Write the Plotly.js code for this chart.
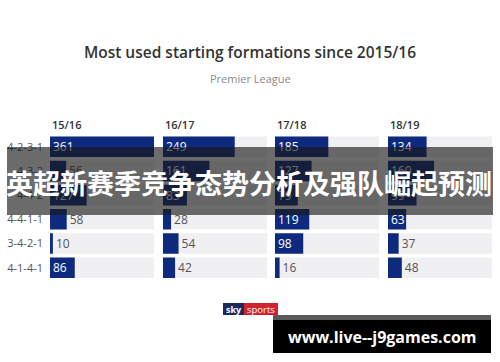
<!DOCTYPE html>
<html>
<head>
<meta charset="utf-8">
<script src="https://cdn.plot.ly/plotly-3.0.1.min.js"></script>
<style>html,body{margin:0;padding:0;background:#fff;}#chart{width:500px;height:362px;}</style>
</head>
<body>
<div id="chart"></div>
<script>
const formations = ['4-2-3-1', '4-3-3', '4-4-2', '4-4-1-1', '3-4-2-1', '4-1-4-1'];
const seasons = ['15/16', '16/17', '17/18', '18/19'];
const s1516 = [361, 56, 127, 58, 10, 86];
const s1617 = [249, 161, 83, 28, 54, 42];
const s1718 = [185, 127, 79, 119, 98, 16];
const s1819 = [134, 160, 99, 63, 37, 48];
const seriesList = [s1516, s1617, s1718, s1819];

const chartTitle = 'Most used starting formations since 2015/16';
const chartSubtitle = 'Premier League';
const bannerText = '英超新赛季竞争态势分析及强队崛起预测';
const watermarkText = 'www.live--j9games.com';

const maxVal = Math.max(...seriesList.flat());
const NAVY = '#0e2a7e';
const TRACK = '#f0f0f2';
const FONT = '"Open Sans", "Noto Sans", sans-serif';

const domains = [[0.100, 0.308], [0.326, 0.534], [0.550, 0.758], [0.776, 0.984]];

const traces = [];
const layout = {
  width: 500, height: 362,
  margin: {l: 0, r: 0, t: 0, b: 0},
  paper_bgcolor: '#ffffff', plot_bgcolor: 'rgba(0,0,0,0)',
  showlegend: false,
  barmode: 'overlay',
  bargap: 0.15,
  font: {family: FONT, color: '#444'},
  title: {text: chartTitle, x: 0.5, xanchor: 'center', y: 1 - 53/362, yanchor: 'middle',
          font: {family: FONT, size: 15.5, color: '#333', weight: 600}},
  yaxis: {type: 'category', categoryarray: formations, categoryorder: 'array',
          autorange: 'reversed', domain: [0.227, 0.628], anchor: 'x',
          showgrid: false, zeroline: false, showline: false, ticks: '',
          ticklabelstandoff: 6,
          tickfont: {family: FONT, size: 11, color: '#555'}},
  annotations: [],
  shapes: []
};

seriesList.forEach((vals, i) => {
  const ax = i === 0 ? 'x' : 'x' + (i + 1);
  const axName = i === 0 ? 'xaxis' : 'xaxis' + (i + 1);
  layout[axName] = {domain: domains[i], range: [0, maxVal], visible: false,
                    anchor: 'y', fixedrange: true};
  traces.push({
    type: 'bar', orientation: 'h', xaxis: ax, yaxis: 'y',
    y: formations, x: formations.map(() => maxVal),
    marker: {color: TRACK}, hoverinfo: 'skip'
  });
  traces.push({
    type: 'bar', orientation: 'h', xaxis: ax, yaxis: 'y',
    y: formations, x: vals,
    marker: {color: NAVY},
    text: vals.map(String),
    textposition: vals.map(v => v >= 60 ? 'inside' : 'outside'),
    insidetextanchor: 'start',
    textangle: 0,
    constraintext: 'none',
    cliponaxis: false,
    insidetextfont: {family: FONT, size: 12, color: '#ffffff'},
    outsidetextfont: {family: FONT, size: 12, color: '#555'},
    hoverinfo: 'skip'
  });
  layout.annotations.push({
    text: seasons[i], xref: ax + ' domain', x: 0, xanchor: 'left',
    yref: 'paper', y: 1 - 125/362, yanchor: 'middle', showarrow: false,
    font: {family: FONT, size: 11, color: '#333', weight: 600}
  });
});

// subtitle
layout.annotations.push({
  text: chartSubtitle, xref: 'paper', x: 0.5, xanchor: 'center',
  yref: 'paper', y: 1 - 79/362, yanchor: 'middle', showarrow: false,
  font: {family: FONT, size: 11, color: '#8a8a8a'}
});

// overlay banner
layout.shapes.push({type: 'rect', xref: 'paper', yref: 'paper', layer: 'above',
  x0: 7/500, x1: 493/500, y0: 1 - 215/362, y1: 1 - 147/362,
  fillcolor: 'rgba(25,25,25,0.64)', line: {width: 0}});
layout.annotations.push({
  text: bannerText, xref: 'paper', x: 0.497, xanchor: 'center',
  yref: 'paper', y: 1 - 182/362, yanchor: 'middle', showarrow: false,
  font: {family: '"Noto Sans CJK SC", sans-serif', size: 27, color: '#ffffff', weight: 700}
});

// sky sports logo
layout.shapes.push({type: 'rect', xref: 'paper', yref: 'paper', layer: 'above',
  x0: 223/500, x1: 244/500, y0: 1 - 315/362, y1: 1 - 303/362,
  fillcolor: '#1b2a5e', line: {width: 0}});
layout.shapes.push({type: 'rect', xref: 'paper', yref: 'paper', layer: 'above',
  x0: 244/500, x1: 278/500, y0: 1 - 315/362, y1: 1 - 303/362,
  fillcolor: '#d3222f', line: {width: 0}});
layout.annotations.push({
  text: 'sky', xref: 'paper', x: 233.5/500, xanchor: 'center',
  yref: 'paper', y: 1 - 309/362, yanchor: 'middle', showarrow: false,
  font: {family: FONT, size: 9, color: '#ffffff', weight: 700}
});
layout.annotations.push({
  text: 'sports', xref: 'paper', x: 261/500, xanchor: 'center',
  yref: 'paper', y: 1 - 309/362, yanchor: 'middle', showarrow: false,
  font: {family: FONT, size: 9.5, color: '#ffffff'}
});

// watermark
layout.shapes.push({type: 'rect', xref: 'paper', yref: 'paper', layer: 'above',
  x0: 273/500, x1: 491/500, y0: 1 - 320/362, y1: 1 - 315/362,
  fillcolor: '#5a5a5a', line: {width: 0}});
layout.shapes.push({type: 'rect', xref: 'paper', yref: 'paper', layer: 'above',
  x0: 273/500, x1: 491/500, y0: 1 - 353/362, y1: 1 - 320/362,
  fillcolor: '#000000', line: {width: 0}});
layout.annotations.push({
  text: watermarkText, xref: 'paper', x: 382/500, xanchor: 'center',
  yref: 'paper', y: 1 - 337/362, yanchor: 'middle', showarrow: false,
  font: {family: FONT, size: 16, color: '#ffffff', weight: 700}
});

Plotly.newPlot('chart', traces, layout, {staticPlot: true, displayModeBar: false});
</script>
</body>
</html>
